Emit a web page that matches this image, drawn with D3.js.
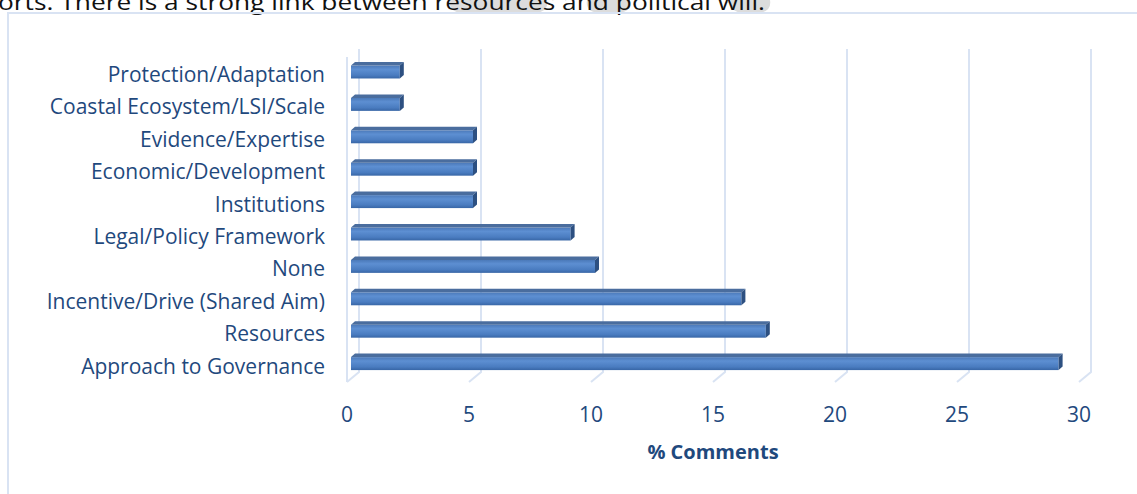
<!DOCTYPE html>
<html lang="en">
<head>
  <title>% Comments by theme</title>
  <script src="https://d3js.org/d3.v7.min.js" charset="utf-8"></script>
  <style>
    body {
      margin: 0;
      background: #fff;
      font-family: "Open Sans", "Noto Sans", sans-serif;
    }
    .gridline {
      stroke: #d9e3f3;
      stroke-width: 2;
      fill: none;
    }
  </style>
</head>
<body>
  <script>
    // Data (top to bottom)
    var categories = ["Protection/Adaptation", "Coastal Ecosystem/LSI/Scale", "Evidence/Expertise",
      "Economic/Development", "Institutions", "Legal/Policy Framework", "None",
      "Incentive/Drive (Shared Aim)", "Resources", "Approach to Governance"];
    var comments = [2, 2, 5, 5, 5, 9, 10, 16, 17, 29];
    var tickValues = [0, 5, 10, 15, 20, 25, 30];
    var axisTitle = "% Comments";
    var headText = "orts.  There is a strong link between resources and political will.";

    var width = 1137;
    var height = 494;

    // 3D look: back wall sits a bit right/up of the bar front faces
    var depthX = 4, depthY = 3.5;

    var svg = d3.select("body")
      .append("svg")
      .attr("width", width)
      .attr("height", height);

    var defs = svg.append("defs");
    var grad = defs.append("linearGradient")
      .attr("id", "barFace")
      .attr("x1", 0).attr("y1", 0).attr("x2", 0).attr("y2", 1);
    grad.append("stop").attr("offset", "0%").attr("stop-color", "#4b79b9");
    grad.append("stop").attr("offset", "30%").attr("stop-color", "#5d8fd2");
    grad.append("stop").attr("offset", "75%").attr("stop-color", "#4a7cc0");
    grad.append("stop").attr("offset", "100%").attr("stop-color", "#3866a6");

    // paragraph text cut off above the chart, with grey comment marks
    var marks = [[450, 547], [587, 630], [731, 770]];
    svg.selectAll(".mark")
      .data(marks)
      .enter()
      .append("path")
      .attr("class", "mark")
      .attr("fill", "#dcdcdc")
      .attr("d", function(d) {
        return "M" + d[0] + ",0 L" + d[1] + ",0 Q" + (d[1] + 2) + ",12 " + (d[1] - 12) + ",13 L" + (d[0] + 12) + ",13 Q" + (d[0] - 2) + ",12 " + d[0] + ",0 Z";
      });

    svg.append("text")
      .attr("x", -2)
      .attr("y", 10)
      .attr("font-size", 21)
      .attr("fill", "#111")
      .attr("textLength", 767)
      .attr("lengthAdjust", "spacingAndGlyphs")
      .text(headText);

    // chart frame
    svg.append("rect")
      .attr("x", 8)
      .attr("y", 13)
      .attr("width", 1200)
      .attr("height", 600)
      .attr("fill", "none")
      .attr("stroke", "#d9e3f3")
      .attr("stroke-width", 2);

    // scales: x for bar front faces
    var x = d3.scaleLinear()
      .domain([0, 30])
      .range([351, 1083]);

    var y = d3.scaleBand()
      .domain(categories)
      .range([55.8, 379.8])
      .paddingInner(0.6)
      .paddingOuter(0.3);

    var wallTop = 49, wallBottom = 372;

    // back wall gridlines + floor diagonals
    var grid = svg.append("g");
    grid.selectAll(".gridline")
      .data(tickValues)
      .enter()
      .append("path")
      .attr("class", "gridline")
      .attr("d", function(d) {
        var bx = x(d) + 8;
        return "M" + bx + "," + wallTop + " L" + bx + "," + wallBottom + " L" + (bx - 12) + "," + (wallBottom + 10);
      });

    // front edge of side wall
    grid.append("line")
      .attr("class", "gridline")
      .attr("x1", x(0) - 4).attr("x2", x(0) - 4)
      .attr("y1", 57).attr("y2", 382);

    // bars
    var bars = svg.append("g").selectAll(".bar")
      .data(categories)
      .enter()
      .append("g")
      .attr("class", "bar");

    bars.append("rect")
      .attr("x", x(0))
      .attr("y", function(d) { return y(d); })
      .attr("width", function(d, i) { return x(comments[i]) - x(0); })
      .attr("height", y.bandwidth())
      .attr("fill", "url(#barFace)");

    // top face
    bars.append("path")
      .attr("fill", "#4a6d9e")
      .attr("d", function(d, i) {
        var x0 = x(0), x1 = x(comments[i]), t = y(d);
        return "M" + x0 + "," + t + " L" + x1 + "," + t + " L" + (x1 + depthX) + "," + (t - depthY) +
          " L" + (x0 + depthX) + "," + (t - depthY) + " Z";
      });

    // right side face
    bars.append("path")
      .attr("fill", "#2d5081")
      .attr("d", function(d, i) {
        var x1 = x(comments[i]), t = y(d), b = t + y.bandwidth();
        return "M" + x1 + "," + t + " L" + (x1 + depthX) + "," + (t - depthY) +
          " L" + (x1 + depthX) + "," + (b - depthY) + " L" + x1 + "," + b + " Z";
      });

    // category labels
    svg.append("g").selectAll(".cat")
      .data(categories)
      .enter()
      .append("text")
      .attr("class", "cat")
      .attr("x", 325)
      .attr("y", function(d) { return y(d) + y.bandwidth() / 2 + 10; })
      .attr("text-anchor", "end")
      .attr("font-size", 21)
      .attr("fill", "#1f497d")
      .text(function(d) { return d; });

    // value tick labels sit on the front of the floor
    svg.append("g").selectAll(".tick")
      .data(tickValues)
      .enter()
      .append("text")
      .attr("class", "tick")
      .attr("x", function(d) { return x(d) - 4; })
      .attr("y", 422)
      .attr("text-anchor", "middle")
      .attr("font-size", 21)
      .attr("fill", "#1f497d")
      .text(function(d) { return d; });

    svg.append("text")
      .attr("x", 713)
      .attr("y", 459)
      .attr("text-anchor", "middle")
      .attr("font-size", 20)
      .attr("font-weight", "bold")
      .attr("fill", "#1f497d")
      .text(axisTitle);
  </script>
</body>
</html>
